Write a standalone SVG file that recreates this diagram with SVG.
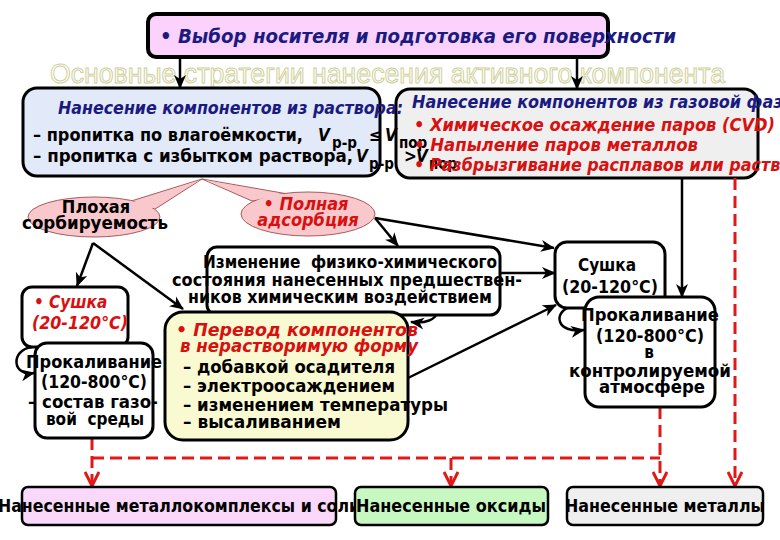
<svg xmlns="http://www.w3.org/2000/svg" width="780" height="540" viewBox="0 0 780 540">
<defs>
<marker id="ab" markerUnits="userSpaceOnUse" markerWidth="14" markerHeight="14" viewBox="0 0 14 14" refX="13" refY="7" orient="auto">
<path d="M0,1 L14,7 L0,13 L4,7 z" fill="#000"/>
</marker>
<marker id="ar" markerUnits="userSpaceOnUse" markerWidth="16" markerHeight="16" viewBox="0 0 16 16" refX="14" refY="8" orient="auto">
<path d="M1,1 L15,8 L1,15" fill="none" stroke="#e01818" stroke-width="3"/>
</marker>
</defs>
<style>
text{font-family:"DejaVu Sans Condensed","DejaVu Sans","Noto Sans",sans-serif;font-weight:bold;}
.nv{fill:#1a1a80;font-style:italic;font-size:18px;}
.rd{fill:#d81010;font-style:italic;font-size:17px;}
.bk{fill:#000;font-size:17px;}
.sb{font-size:14px;}
.c{text-anchor:middle;}
.box{stroke:#000;stroke-width:3;}
.ln{stroke:#000;stroke-width:2.5;fill:none;}
.dl{stroke:#e01818;stroke-width:3;fill:none;stroke-dasharray:12 6;}
</style>
<rect width="780" height="540" fill="#fff"/>

<text x="50" y="83" font-size="27" textLength="675" lengthAdjust="spacingAndGlyphs" style="font-family:'Liberation Sans Narrow','Liberation Sans',sans-serif;font-weight:normal;fill:#fff;stroke:#cfcf98;stroke-width:1">Основные стратегии нанесения активного компонента</text>

<g id="top">
<rect x="148" y="14" width="460" height="43" rx="8" fill="#fbd2fb" stroke="#000" stroke-width="4"/>
<text x="160" y="43" class="nv" style="font-size:20px" textLength="516" lengthAdjust="spacingAndGlyphs">• Выбор носителя и подготовка его поверхности</text>
</g>

<g id="solution">
<rect x="23" y="88" width="357" height="88" rx="14" fill="#e2e9f8" class="box" stroke-width="2.5"/>
</g>
<g id="gas">
<rect x="396" y="89" width="362" height="89" rx="14" fill="#efefef" class="box" stroke-width="2.5"/>
</g>
<g id="solution-text">
<text x="58" y="114" class="nv" textLength="345" lengthAdjust="spacingAndGlyphs">Нанесение компонентов из раствора:</text>
<text x="33" y="141" class="bk" textLength="270" lengthAdjust="spacingAndGlyphs">– пропитка по влагоёмкости,</text>
<text x="318" y="141" class="bk" font-style="italic">V</text>
<text x="332" y="148" class="bk sb" style="font-size:15px">р-р</text>
<text x="369" y="141" class="bk">≤</text>
<text x="385" y="141" class="bk" font-style="italic">V</text>
<text x="399" y="148" class="bk" style="font-size:15px">пор</text>
<text x="33" y="162" class="bk" textLength="320" lengthAdjust="spacingAndGlyphs">– пропитка с избытком раствора,</text>
<text x="356" y="162" class="bk" font-style="italic">V</text>
<text x="369" y="169" class="bk" style="font-size:15px">р-р</text>
<text x="404" y="162" class="bk">&gt;</text>
<text x="416" y="162" class="bk" font-style="italic">V</text>
<text x="429" y="169" class="bk" style="font-size:15px">пор</text>
</g>
<g id="gas-text">
<text x="412" y="108" class="nv" textLength="385" lengthAdjust="spacingAndGlyphs">Нанесение компонентов из газовой фазы</text>
<text x="414" y="131" class="rd" textLength="361" lengthAdjust="spacingAndGlyphs">• Химическое осаждение паров (CVD)</text>
<text x="414" y="151" class="rd" textLength="284" lengthAdjust="spacingAndGlyphs">• Напыление паров металлов</text>
<text x="414" y="171" class="rd" textLength="410" lengthAdjust="spacingAndGlyphs">• Разбрызгивание расплавов или растворов</text>
</g>

<g id="connectors">
<line x1="180" y1="57" x2="180" y2="88" class="ln" marker-end="url(#ab)"/>
<line x1="577" y1="57" x2="577" y2="89" class="ln" marker-end="url(#ab)"/>
<line x1="375" y1="218" x2="398" y2="246" class="ln" marker-end="url(#ab)"/>
<line x1="375" y1="218" x2="554" y2="248" class="ln" marker-end="url(#ab)"/>
<line x1="93" y1="243" x2="77" y2="286" class="ln" marker-end="url(#ab)"/>
<line x1="93" y1="243" x2="183" y2="309" class="ln" marker-end="url(#ab)"/>
<line x1="500" y1="273" x2="555" y2="273" class="ln" marker-end="url(#ab)"/>
<line x1="408" y1="378" x2="556" y2="305" class="ln" marker-end="url(#ab)"/>
<line x1="682" y1="178" x2="682" y2="297" class="ln" stroke-width="3" marker-end="url(#ab)"/>
<path d="M32,347 C10,350 12,377 34,373" class="ln" stroke-width="3" marker-end="url(#ab)"/>
<path d="M572,306 C552,312 556,334 584,330" class="ln" stroke-width="3" marker-end="url(#ab)"/>
<path d="M418,300 C446,302 442,326 411,322" class="ln" stroke-width="2.5" marker-end="url(#ab)"/>
<line x1="735" y1="178" x2="735" y2="485" class="dl" marker-end="url(#ar)"/>
<line x1="92" y1="438" x2="92" y2="485" class="dl" marker-end="url(#ar)"/>
<line x1="92" y1="458" x2="660" y2="458" class="dl"/>
<line x1="660" y1="407" x2="660" y2="485" class="dl" marker-end="url(#ar)"/>
<line x1="451" y1="458" x2="451" y2="485" class="dl" marker-end="url(#ar)"/>
</g>

<g id="poor">
<path d="M128,202 L202,179 L152,211 Z" fill="#f8c8cc" stroke="#a85a5a" stroke-width="1"/>
<ellipse cx="94" cy="217" rx="66" ry="20" fill="#f8c8cc" stroke="#a85a5a" stroke-width="1"/>
<path d="M130,203 L200,180 L149,210 Z" fill="#f8c8cc"/>
<text x="96" y="213" class="bk c" style="font-size:18px">Плохая</text>
<text x="95" y="229" class="bk c" style="font-size:18px" textLength="146" lengthAdjust="spacingAndGlyphs">сорбируемость</text>
</g>

<g id="full">
<path d="M252,201 L202,179 L288,194 Z" fill="#f8c8cc" stroke="#a85a5a" stroke-width="1"/>
<ellipse cx="308" cy="214" rx="67" ry="22" fill="#f8c8cc" stroke="#a85a5a" stroke-width="1"/>
<path d="M254,200 L205,180 L286,195 Z" fill="#f8c8cc"/>
<text x="306" y="210" class="rd c" style="font-size:18px">• Полная</text>
<text x="308" y="226" class="rd c" style="font-size:18px">адсорбция</text>
</g>

<g id="change">
<rect x="207" y="247" width="293" height="68" rx="10" fill="#fff" class="box" stroke-width="2.5"/>
<text x="350" y="268" class="bk c" textLength="294" lengthAdjust="spacingAndGlyphs" xml:space="preserve">Изменение  физико-химического</text>
<text x="347" y="286" class="bk c" textLength="350" lengthAdjust="spacingAndGlyphs">состояния нанесенных предшествен-</text>
<text x="340" y="303" class="bk c" textLength="304" lengthAdjust="spacingAndGlyphs">ников химическим воздействием</text>
</g>

<g id="dry-left">
<rect x="22" y="287" width="106" height="60" rx="10" fill="#fff" class="box"/>
<text x="34" y="308" class="rd">• Сушка</text>
<text x="32" y="329" class="rd" textLength="96" lengthAdjust="spacingAndGlyphs">(20-120°C)</text>
</g>

<g id="calc-left">
<rect x="35" y="343" width="118" height="95" rx="12" fill="#fff" class="box" stroke-width="3.5"/>
<text x="94" y="368" class="bk c" textLength="136" lengthAdjust="spacingAndGlyphs">Прокаливание</text>
<text x="94" y="388" class="bk c" textLength="106" lengthAdjust="spacingAndGlyphs">(120-800°C)</text>
<text x="93" y="408" class="bk c" textLength="130" lengthAdjust="spacingAndGlyphs">– состав газо-</text>
<text x="95" y="425" class="bk c" xml:space="preserve">вой  среды</text>
</g>

<g id="convert">
<rect x="165" y="312" width="243" height="128" rx="18" fill="#fafad2" class="box" stroke-width="3.5"/>
<text x="176" y="336" class="rd" textLength="242" lengthAdjust="spacingAndGlyphs">• Перевод компонентов</text>
<text x="180" y="352" class="rd" textLength="238" lengthAdjust="spacingAndGlyphs">в нерастворимую форму</text>
<text x="183" y="373" class="bk" textLength="212" lengthAdjust="spacingAndGlyphs">– добавкой осадителя</text>
<text x="183" y="392" class="bk" textLength="212" lengthAdjust="spacingAndGlyphs">– электроосаждением</text>
<text x="183" y="411" class="bk" textLength="265" lengthAdjust="spacingAndGlyphs">– изменением температуры</text>
<text x="183" y="428" class="bk" textLength="158" lengthAdjust="spacingAndGlyphs">– высаливанием</text>
</g>

<g id="dry-right">
<rect x="555" y="242" width="110" height="66" rx="12" fill="#fff" class="box"/>
<text x="607" y="271" class="bk c">Сушка</text>
<text x="610" y="293" class="bk c" textLength="96" lengthAdjust="spacingAndGlyphs">(20-120°C)</text>
</g>

<g id="calc-right">
<rect x="585" y="297" width="130" height="110" rx="14" fill="#fff" class="box" stroke-width="3.5"/>
<text x="650" y="321" class="bk c" textLength="138" lengthAdjust="spacingAndGlyphs">Прокаливание</text>
<text x="650" y="342" class="bk c" textLength="108" lengthAdjust="spacingAndGlyphs">(120-800°C)</text>
<text x="649" y="358" class="bk c">в</text>
<text x="650" y="377" class="bk c" textLength="162" lengthAdjust="spacingAndGlyphs">контролируемой</text>
<text x="652" y="393" class="bk c" textLength="106" lengthAdjust="spacingAndGlyphs">атмосфере</text>
</g>

<g id="out-salts">
<rect x="22" y="487" width="314" height="38" rx="6" fill="#fad8fa" stroke="#000" stroke-width="2.5"/>
<text x="-2" y="512" class="bk" style="font-size:18px" textLength="362" lengthAdjust="spacingAndGlyphs">Нанесенные металлокомплексы и соли</text>
</g>
<g id="out-oxides">
<rect x="355" y="487" width="193" height="38" rx="6" fill="#c8f8c2" stroke="#000" stroke-width="2.5"/>
<text x="356" y="512" class="bk" style="font-size:18px" textLength="190" lengthAdjust="spacingAndGlyphs">Нанесенные оксиды</text>
</g>
<g id="out-metals">
<rect x="567" y="487" width="196" height="38" rx="6" fill="#efefef" stroke="#000" stroke-width="2.5"/>
<text x="565" y="512" class="bk" style="font-size:18px" textLength="200" lengthAdjust="spacingAndGlyphs">Нанесенные металлы</text>
</g>
</svg>
